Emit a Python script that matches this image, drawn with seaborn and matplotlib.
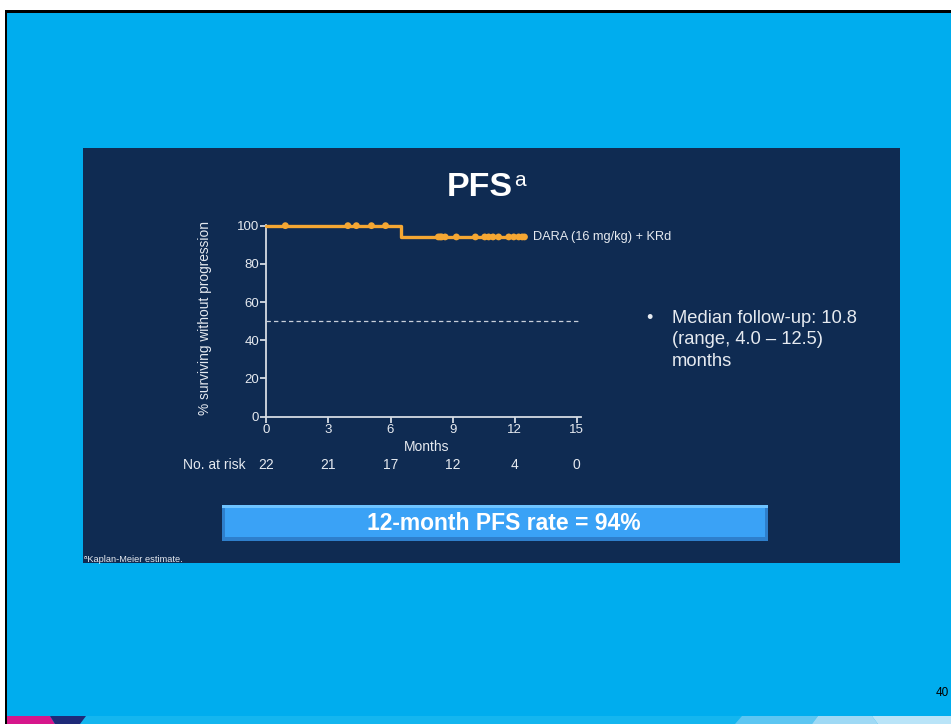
import numpy as np
import pandas as pd
import matplotlib
matplotlib.use("Agg")
import matplotlib.pyplot as plt
from matplotlib.patches import Rectangle, Polygon
import seaborn as sns

# Kaplan-Meier step curve (months, % progression-free)
step_months = [0.0, 6.5, 12.47]
step_pfs = [100.0, 94.1, 94.1]

# Censored observations (months)
censor_months = [0.92, 3.94, 4.35, 5.08, 5.76,
                 8.31, 8.40, 8.47, 8.64, 9.18, 10.10, 10.55, 10.74,
                 10.95, 11.22, 11.71, 11.95, 12.19, 12.36, 12.47]

risk_months = [0, 3, 6, 9, 12, 15]
at_risk = [22, 21, 17, 12, 4, 0]

x_ticks = [0, 3, 6, 9, 12, 15]
y_ticks = [0, 20, 40, 60, 80, 100]

series_label = "DARA (16 mg/kg) + KRd"
pfs_12mo = 94

SLIDE_BLUE = "#00ADEE"
PANEL = "#0F2B52"
ORANGE = "#F5A733"
AXIS_C = "#D5DBE3"
TEXT_C = "#E6EAF0"

sns.set_theme(style="ticks")
plt.rcParams["font.family"] = ["Liberation Sans", "DejaVu Sans"]

W, H = 951, 724
fig = plt.figure(figsize=(W / 100, H / 100), dpi=100)
fig.patch.set_facecolor("white")


def px(x, y):
    return x / W, 1 - y / H


# slide background and frame
fig.add_artist(Rectangle(px(5, 724), (W - 5) / W, (724 - 10) / H,
                         transform=fig.transFigure, facecolor=SLIDE_BLUE,
                         edgecolor="none", zorder=0))
fig.add_artist(Rectangle(px(5, 13), (W - 5) / W, 3 / H,
                         transform=fig.transFigure, facecolor="black",
                         edgecolor="none", zorder=1))
fig.add_artist(Rectangle(px(5, 724), 2.5 / W, (724 - 10) / H,
                         transform=fig.transFigure, facecolor="black",
                         edgecolor="none", zorder=1))


# bottom decorative strip
def poly(pts, color, z=1):
    fig.add_artist(Polygon([px(x, y) for x, y in pts], closed=True,
                           transform=fig.transFigure, facecolor=color,
                           edgecolor="none", zorder=z))


poly([(7, 716), (951, 716), (951, 724), (7, 724)], "#14B6EF", 0.5)
poly([(7, 724), (7, 716), (50, 716), (55, 724)], "#D6168B")
poly([(50, 716), (86, 716), (80, 724), (55, 724)], "#1E2A78")
poly([(735, 724), (742, 716), (818, 716), (812, 724)], "#5CC6F2")
poly([(812, 724), (818, 716), (872, 716), (878, 724)], "#9ED9F5")
poly([(878, 724), (872, 716), (951, 716), (951, 724)], "#B9E4F8")

# dark content panel
fig.add_artist(Rectangle(px(83, 563), (900 - 83) / W, (563 - 148) / H,
                         transform=fig.transFigure, facecolor=PANEL,
                         edgecolor="none", zorder=1))

# survival axes
ax = fig.add_axes([266.3 / W, 1 - 416.7 / H, (581 - 266.3) / W, (416.7 - 224.7) / H])
ax.set_facecolor("none")
ax.set_zorder(3)

curve = pd.DataFrame({"month": step_months, "pfs": step_pfs})
sns.lineplot(data=curve, x="month", y="pfs", drawstyle="steps-post",
             color=ORANGE, linewidth=2.4, ax=ax, zorder=4, clip_on=False)

sm = np.array(step_months)
sp = np.array(step_pfs)
cens_y = [sp[np.searchsorted(sm, t, side="right") - 1] for t in censor_months]
cens = pd.DataFrame({"month": censor_months, "pfs": cens_y})
sns.scatterplot(data=cens, x="month", y="pfs", color=ORANGE, s=24,
                edgecolor="none", ax=ax, zorder=5, clip_on=False)

ax.axhline(50, xmin=0, xmax=15.1 / 15.2, color="#C9D0DA", lw=0.9,
           ls=(0, (3.5, 2.5)), zorder=3)

ax.set_xlim(0, 15.2)
ax.set_ylim(0, 100.5)
ax.set_xticks(x_ticks)
ax.set_yticks(y_ticks)
ax.set_xlabel("")
ax.set_ylabel("")
for s in ("top", "right"):
    ax.spines[s].set_visible(False)
for s in ("left", "bottom"):
    ax.spines[s].set_color(AXIS_C)
    ax.spines[s].set_linewidth(1.3)
ax.tick_params(colors=AXIS_C, labelcolor=TEXT_C, labelsize=9.5, length=4,
               width=1.3, pad=1)

ax.text(12.9, 94.1, series_label, color=TEXT_C, fontsize=9.2, va="center",
        ha="left", transform=ax.transData, clip_on=False)

# axis labels and risk table
fig.text(*px(205, 318), "% surviving without progression", color=TEXT_C,
         fontsize=9.9, rotation=90, ha="center", va="center")
fig.text(*px(427, 447), "Months", color=TEXT_C, fontsize=10,
         ha="center", va="center")
fig.text(*px(183, 465), "No. at risk", color=TEXT_C, fontsize=10,
         ha="left", va="center")
for m, n in zip(risk_months, at_risk):
    xf = ax.transData.transform((m, 0))[0] / W
    fig.text(xf, 1 - 465 / H, str(n), color=TEXT_C, fontsize=10,
             ha="center", va="center")

# title
fig.text(*px(447, 188), "PFS", color="white", fontsize=24.5,
         fontweight="bold", ha="left", va="center")
fig.text(*px(514, 181), "a", color="white", fontsize=15,
         ha="left", va="center")

# follow-up bullet
fig.text(*px(646, 318), "•", color=TEXT_C, fontsize=13, ha="left", va="center")
fig.text(*px(672, 340), "Median follow-up: 10.8\n(range, 4.0 – 12.5)\nmonths",
         color=TEXT_C, fontsize=13.2, ha="left", va="center", linespacing=1.33)

# highlighted rate box with bevelled edges
fig.add_artist(Rectangle(px(222, 541), (768 - 222) / W, (541 - 505) / H,
                         transform=fig.transFigure, facecolor="#2E7FCC",
                         edgecolor="none", zorder=2))
fig.add_artist(Rectangle(px(222, 508), (768 - 222) / W, 3 / H,
                         transform=fig.transFigure, facecolor="#6EC3FF",
                         edgecolor="none", zorder=2))
fig.add_artist(Rectangle(px(225, 537), (765 - 225) / W, (537 - 508) / H,
                         transform=fig.transFigure, facecolor="#3AA2F6",
                         edgecolor="none", zorder=2))
fig.text(*px(504, 523), f"12-month PFS rate = {pfs_12mo}%", color="white",
         fontsize=16.5, fontweight="bold", ha="center", va="center", zorder=4)

# footnote and page number
fig.text(*px(84, 559), "ᵃKaplan-Meier estimate.", color=TEXT_C, fontsize=6.7,
         ha="left", va="center")
fig.text(*px(936, 693), "40", color="black", fontsize=8.5, ha="left", va="center")

fig.savefig("out.png", dpi=100, facecolor=fig.get_facecolor())
